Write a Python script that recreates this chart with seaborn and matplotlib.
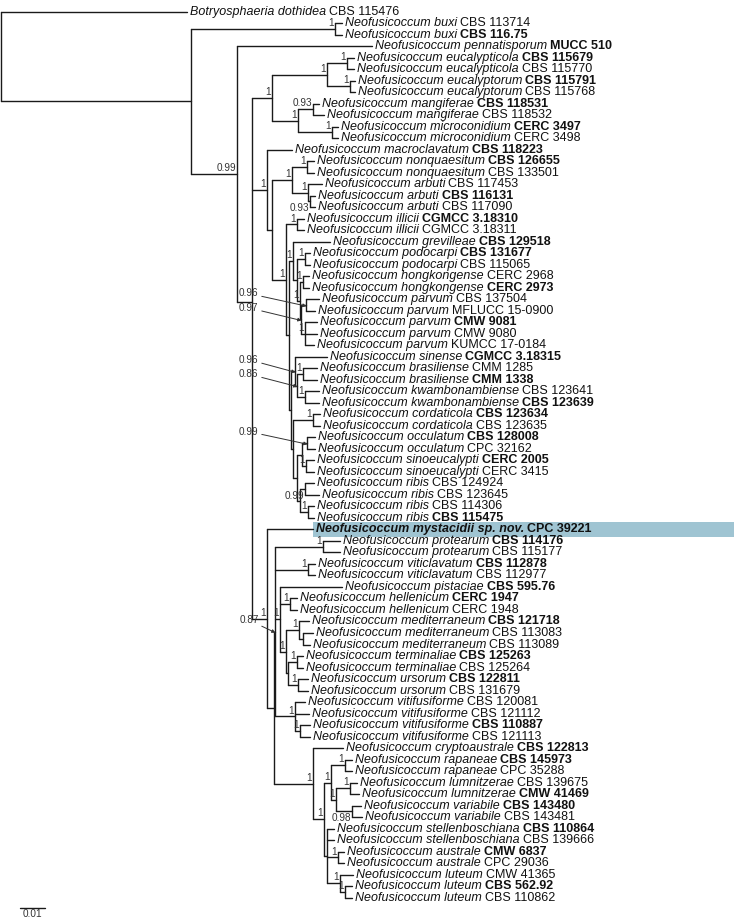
import matplotlib
matplotlib.use("Agg")
import matplotlib.pyplot as plt
from matplotlib.patches import Rectangle
import seaborn as sns
import pandas as pd

# ---------------- data ----------------
species = (["Botryosphaeria dothidea"] + ["Neofusicoccum buxi"] * 2 + ["Neofusicoccum pennatisporum"]
           + ["Neofusicoccum eucalypticola"] * 2 + ["Neofusicoccum eucalyptorum"] * 2
           + ["Neofusicoccum mangiferae"] * 2 + ["Neofusicoccum microconidium"] * 2
           + ["Neofusicoccum macroclavatum"] + ["Neofusicoccum nonquaesitum"] * 2
           + ["Neofusicoccum arbuti"] * 3 + ["Neofusicoccum illicii"] * 2 + ["Neofusicoccum grevilleae"]
           + ["Neofusicoccum podocarpi"] * 2 + ["Neofusicoccum hongkongense"] * 2
           + ["Neofusicoccum parvum"] * 5 + ["Neofusicoccum sinense"] + ["Neofusicoccum brasiliense"] * 2
           + ["Neofusicoccum kwambonambiense"] * 2 + ["Neofusicoccum cordaticola"] * 2
           + ["Neofusicoccum occulatum"] * 2 + ["Neofusicoccum sinoeucalypti"] * 2
           + ["Neofusicoccum ribis"] * 4 + ["Neofusicoccum mystacidii sp. nov."]
           + ["Neofusicoccum protearum"] * 2 + ["Neofusicoccum viticlavatum"] * 2
           + ["Neofusicoccum pistaciae"] + ["Neofusicoccum hellenicum"] * 2
           + ["Neofusicoccum mediterraneum"] * 3 + ["Neofusicoccum terminaliae"] * 2
           + ["Neofusicoccum ursorum"] * 2 + ["Neofusicoccum vitifusiforme"] * 4
           + ["Neofusicoccum cryptoaustrale"] + ["Neofusicoccum rapaneae"] * 2
           + ["Neofusicoccum lumnitzerae"] * 2 + ["Neofusicoccum variabile"] * 2
           + ["Neofusicoccum stellenboschiana"] * 2 + ["Neofusicoccum australe"] * 2
           + ["Neofusicoccum luteum"] * 3)

strains = ["CBS 115476", "CBS 113714", "CBS 116.75", "MUCC 510", "CBS 115679", "CBS 115770",
           "CBS 115791", "CBS 115768", "CBS 118531", "CBS 118532", "CERC 3497", "CERC 3498",
           "CBS 118223", "CBS 126655", "CBS 133501", "CBS 117453", "CBS 116131", "CBS 117090",
           "CGMCC 3.18310", "CGMCC 3.18311", "CBS 129518", "CBS 131677", "CBS 115065",
           "CERC 2968", "CERC 2973", "CBS 137504", "MFLUCC 15-0900", "CMW 9081", "CMW 9080",
           "KUMCC 17-0184", "CGMCC 3.18315", "CMM 1285", "CMM 1338", "CBS 123641", "CBS 123639",
           "CBS 123634", "CBS 123635", "CBS 128008", "CPC 32162", "CERC 2005", "CERC 3415",
           "CBS 124924", "CBS 123645", "CBS 114306", "CBS 115475", "CPC 39221",
           "CBS 114176", "CBS 115177", "CBS 112878", "CBS 112977", "CBS 595.76", "CERC 1947",
           "CERC 1948", "CBS 121718", "CBS 113083", "CBS 113089", "CBS 125263", "CBS 125264",
           "CBS 122811", "CBS 131679", "CBS 120081", "CBS 121112", "CBS 110887", "CBS 121113",
           "CBS 122813", "CBS 145973", "CPC 35288", "CBS 139675", "CMW 41469", "CBS 143480",
           "CBS 143481", "CBS 110864", "CBS 139666", "CMW 6837", "CPC 29036", "CMW 41365",
           "CBS 562.92", "CBS 110862"]

bold_strain = [0, 0, 1, 1, 1, 0, 1, 0, 1, 0, 1, 0, 1, 1, 0, 0, 1, 0, 1, 0, 1, 1, 0, 0, 1, 0, 0, 1, 0,
               0, 1, 0, 1, 0, 1, 1, 0, 1, 0, 1, 0, 0, 0, 0, 1, 1, 1, 0, 1, 0, 1, 1, 0, 1, 0, 0, 1, 0,
               1, 0, 0, 0, 1, 0, 1, 1, 0, 0, 1, 1, 0, 1, 0, 1, 0, 0, 1, 0]

highlight_leaf = 45

# clades: Newick with node depth (substitutions/site from root), internal labels "name|support"
clade_buxi = "(L1:0.1364,L2:0.1364)buxiN|1:0.1336"
clade_euc = "((L4:0.1412,L5:0.1412)eucN1|1:0.1384,(L6:0.1416,L7:0.1416)eucN2|1:0.1396)EU|1:0.1304"
clade_mm = "((L8:0.1272,L9:0.1292)mangN|0.93:0.1248,(L10:0.1348,L11:0.1348)microN|1:0.1324)MM|1:0.1188"
clade_na = ("((L13:0.1252,L14:0.1252)nonqN|1:0.1224,(L15:0.1284,(L16:0.1256,L17:0.1256)arbP|0.93:0.1236)"
            "arbN|1:0.1228)NA|1:0.1164")
clade_ill = "(L18:0.1212,L19:0.1212)illN|1:0.1184"
clade_g1 = ("(L20:0.1316,((L21:0.1236,L22:0.1236)podoN|1:0.1216,((L23:0.1232,L24:0.1232)hongN|1:0.1208,"
            "((L25:0.1272,L26:0.1256)parvP|0.96:0.1220,(L27:0.1264,L28:0.1264,L29:0.1252)parv3|1:0.1216)"
            "P|0.97:0.1200)G1c|1:0.1196)G1b:0.1184)G1|1:0.1168")
clade_s = ("(L30:0.1304,((L31:0.1264,L32:0.1264)brasN|1:0.1208,(L33:0.1272,L34:0.1272)kwN|1:0.1216)"
           "S2|0.86:0.1184)S|0.96:0.1176")
clade_o = ("((L35:0.1276,L36:0.1276)cordN|1:0.1248,(((L37:0.1256,L38:0.1256)occN|0.99:0.1224,"
           "(L39:0.1252,L40:0.1252)sinoN|1:0.1220)OS:0.1204,((L41:0.1252,L42:0.1272)ribN1|0.99:0.1216,"
           "(L43:0.1252,L44:0.1252)ribP|1:0.1228)RIB:0.1196)O2:0.1184)O:0.1168")
clade_fa = ("((L46:0.1356,L47:0.1356)protN|1:0.1288,(L48:0.1256,L49:0.1256)viticN|1:0.1228,"
            "(L50:0.1364,(L51:0.1184,L52:0.1184)hellN|1:0.1156,((L53:0.1232,(L54:0.1248,L55:0.1236)"
            "med2:0.1208)medN|1:0.1192,((L56:0.1208,L57:0.1208)termN|1:0.1184,(L58:0.1228,L59:0.1228)"
            "ursN|1:0.1188)TU:0.1148)MTU|1:0.1140)HM|1:0.1116,(L60:0.1216,L61:0.1232,(L62:0.1236,"
            "L63:0.1236)vitP|1:0.1196)vitifN|1:0.1176)Fa|0.87:0.1096")
clade_e = ("(L64:0.1368,(((L65:0.1404,L66:0.1404)rapN|1:0.1376,((L67:0.1424,L68:0.1432)lumnN|1:0.1396,"
           "(L69:0.1440,L70:0.1444)varN|0.98:0.1404)LV|1:0.1340)RLV|1:0.1320,(L71:0.1332,L72:0.1332,"
           "(L73:0.1372,L74:0.1372)austN|1:0.1348,(L75:0.1408,(L76:0.1404,L77:0.1404)lutP|1:0.1376)"
           "lutN|1:0.1356)SAL:0.1304)E2|1:0.1292)E|1:0.1248")

tree_str = (f"(L0:0.0744,({clade_buxi},(L3:0.1484,(({clade_euc},{clade_mm})EM|1:0.1084,"
            f"(L12:0.1164,({clade_na},({clade_ill},({clade_g1},({clade_s},{clade_o})G2:0.1160)R2:0.1152)"
            f"R|1:0.1140)C2:0.1084)C|1:0.1064,(L45:0.1248,({clade_fa},{clade_e})D1:0.1092)D|1:0.1064)"
            f"B:0.1004)N099|0.99:0.0944)A:0.0760)root:0.0")

label_below = {"arbP", "ribN1", "varN"}
label_arrow = {"parvP", "P", "S", "S2", "occN", "Fa"}
mean_centered = {"B"}

# ---------------- parse ----------------
def parse(s, i):
    node = {"children": []}
    if s[i] == "(":
        i += 1
        while True:
            child, i = parse(s, i)
            node["children"].append(child)
            if s[i] == ",":
                i += 1
            elif s[i] == ")":
                i += 1
                break
    j = i
    while s[i] != ":":
        i += 1
    lab = s[j:i]
    i += 1
    j = i
    while i < len(s) and s[i] not in ",)":
        i += 1
    node["x"] = float(s[j:i])
    if "|" in lab:
        node["name"], node["support"] = lab.split("|")
    else:
        node["name"], node["support"] = lab, None
    return node, i

root, _ = parse(tree_str, 0)

segs = []
nodes = []

def layout(n, px):
    if not n["children"]:
        n["y"] = int(n["name"][1:])
    else:
        for c in n["children"]:
            layout(c, n["x"])
        ys = [c["y"] for c in n["children"]]
        if n["name"] in mean_centered:
            n["y"] = sum(ys) / len(ys)
        else:
            n["y"] = (ys[0] + ys[-1]) / 2
        segs.append((n["x"], ys[0], n["x"], ys[-1]))
    if px is not None:
        segs.append((px, n["y"], n["x"], n["y"]))
    nodes.append(n)

layout(root, None)

rows = []
for k, (x0, y0, x1, y1) in enumerate(segs):
    rows.append({"seg": k, "x": x0, "y": y0})
    rows.append({"seg": k, "x": x1, "y": y1})
df = pd.DataFrame(rows)

# ---------------- draw ----------------
sns.set_theme(style="white")
fig = plt.figure(figsize=(7.34, 9.19), dpi=100)
ax = fig.add_axes([0, 0, 1, 1])
ax.set_xlim(-0.0004, 0.2932)
ax.set_ylim(78.85, -1.0)
ax.axis("off")

FONT = "Liberation Sans"
ROW = 0.62
leaf_nodes = {n["name"]: n for n in nodes if not n["children"]}
hl = leaf_nodes[f"L{highlight_leaf}"]
ax.add_patch(Rectangle((hl["x"], highlight_leaf - ROW), 0.2932 - hl["x"], 2 * ROW,
                       facecolor="#9fc4d2", edgecolor="none", zorder=0))

sns.lineplot(data=df, x="x", y="y", units="seg", estimator=None, sort=False,
             color="#1a1a1a", linewidth=1.0, ax=ax, legend=False)

fig.canvas.draw()
renderer = fig.canvas.get_renderer()
inv = ax.transData.inverted()
gap = 0.0012
fs = 9.0
for i in range(len(species)):
    n = leaf_nodes[f"L{i}"]
    hlt = i == highlight_leaf
    t1 = ax.text(n["x"] + gap, i, species[i], fontsize=fs, family=FONT, style="italic",
                 weight="bold" if hlt else "normal", va="center", ha="left", color="#111111")
    bb = t1.get_window_extent(renderer)
    xe = inv.transform((bb.x1, bb.y0))[0]
    ax.text(xe + 0.0012, i, strains[i], fontsize=fs, family=FONT, color="#111111",
            weight="bold" if (bold_strain[i] or hlt) else "normal", va="center", ha="left")

SFS = 7.2
for n in nodes:
    if not n["children"] or n["support"] is None:
        continue
    if n["name"] in label_arrow:
        ax.annotate(n["support"], xy=(n["x"] + 0.0002, n["y"] + 0.1), xytext=(0.1030, n["y"] - 1.0),
                    fontsize=SFS, family=FONT, color="#333333", ha="right", va="center",
                    arrowprops=dict(arrowstyle="-|>", color="#333333", lw=0.7,
                                    mutation_scale=5, shrinkA=0, shrinkB=0))
    elif n["name"] in label_below:
        ax.text(n["x"] - 0.0003, n["y"] + 0.15, n["support"], fontsize=SFS, family=FONT,
                color="#333333", ha="right", va="top")
    else:
        ax.text(n["x"] - 0.0003, n["y"] - 0.08, n["support"], fontsize=SFS, family=FONT,
                color="#333333", ha="right", va="bottom")

# scale bar 0.01
ax.plot([0.0076, 0.0176], [77.9, 77.9], color="#1a1a1a", lw=1.0)
ax.text(0.0126, 78.0, "0.01", fontsize=SFS, family=FONT, ha="center", va="top", color="#333333")

fig.savefig("out.png", dpi=100)
